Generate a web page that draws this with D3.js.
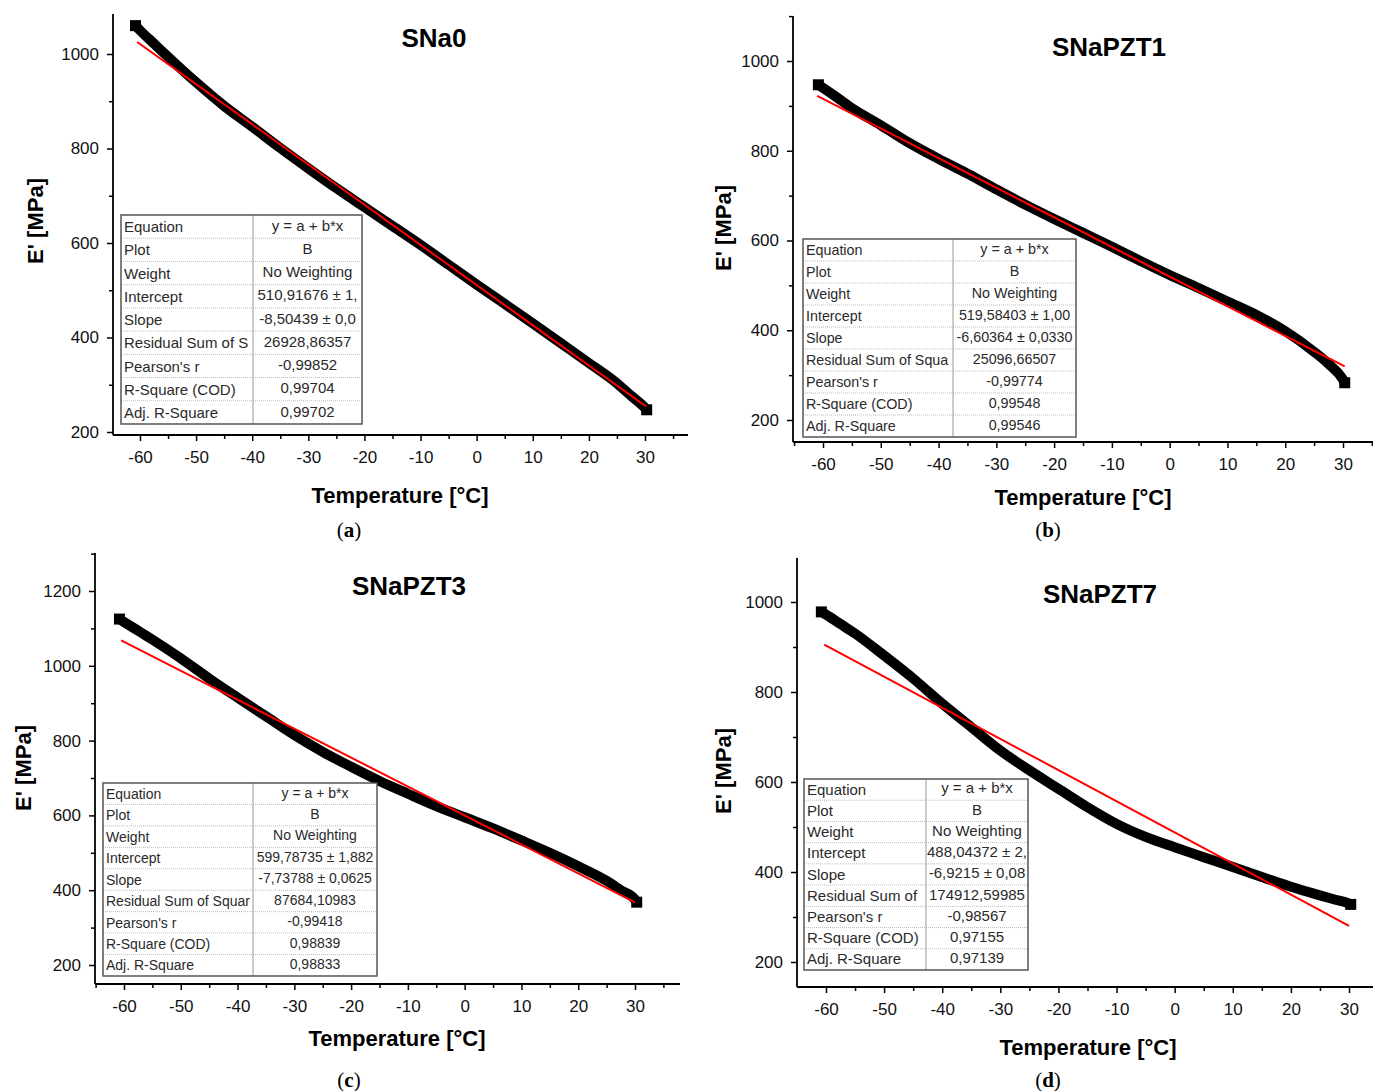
<!DOCTYPE html>
<html>
<head>
<meta charset="utf-8">
<script src="https://cdn.jsdelivr.net/npm/d3@7"></script>
<style>
  body { margin: 0; background: #fff; }
  text { font-family: "Liberation Sans", Arial, sans-serif; }
</style>
</head>
<body>
<svg id="chart" width="1373" height="1091"></svg>
<script>
const temps = [-60.8, -60, -57.5, -55, -50, -45, -40, -35, -30, -25, -20, -15, -10, -5, 0, 5, 10, 15, 20, 25, 27.5, 30, 30.3];
// storage modulus E' (MPa)
const modSNa0    = [1060, 1050, 1022, 994, 940, 890, 846, 801, 758, 716, 676, 636, 596, 554, 512, 471, 430, 388, 346, 303, 277, 251, 247];
const modSNaPZT1 = [947, 940, 918, 895, 857, 817, 782, 749, 714, 680, 648, 617, 586, 554, 523, 494, 464, 434, 398, 352, 325, 290, 283];
const modSNaPZT3 = [1125, 1117, 1094, 1070, 1020, 966, 915, 865, 815, 770, 730, 692, 658, 625, 595, 565, 533, 500, 464, 425, 400, 375, 368];
const modSNaPZT7 = [978, 972, 951, 930, 881, 830, 774, 722, 670, 626, 585, 544, 507, 478, 455, 433, 411, 389, 367, 348, 339, 330, 328];

const titles = ["SNa0", "SNaPZT1", "SNaPZT3", "SNaPZT7"];
const captions = ["a", "b", "c", "d"];
const intercepts = [510.91676, 519.58403, 599.78735, 488.04372];
const slopes = [-8.50439, -6.60364, -7.73788, -6.9215];
const fitFrom = [-60.5, -61, -60.5, -60.3];
const fitTo = [30.2, 30.3, 30, 30];

const xTicks = [-60, -50, -40, -30, -20, -10, 0, 10, 20, 30];
const yTicks = [200, 400, 600, 800, 1000, 1200];

const tableLabelsA = ["Equation", "Plot", "Weight", "Intercept", "Slope", "Residual Sum of S", "Pearson's r", "R-Square (COD)", "Adj. R-Square"];
const tableLabelsB = ["Equation", "Plot", "Weight", "Intercept", "Slope", "Residual Sum of Squa", "Pearson's r", "R-Square (COD)", "Adj. R-Square"];
const tableLabelsC = ["Equation", "Plot", "Weight", "Intercept", "Slope", "Residual Sum of Squar", "Pearson's r", "R-Square (COD)", "Adj. R-Square"];
const tableLabelsD = ["Equation", "Plot", "Weight", "Intercept", "Slope", "Residual Sum of", "Pearson's r", "R-Square (COD)", "Adj. R-Square"];
const tableValuesA = ["y = a + b*x", "B", "No Weighting", "510,91676 ± 1,", "-8,50439 ± 0,0", "26928,86357", "-0,99852", "0,99704", "0,99702"];
const tableValuesB = ["y = a + b*x", "B", "No Weighting", "519,58403 ± 1,00", "-6,60364 ± 0,0330", "25096,66507", "-0,99774", "0,99548", "0,99546"];
const tableValuesC = ["y = a + b*x", "B", "No Weighting", "599,78735 ± 1,882", "-7,73788 ± 0,0625", "87684,10983", "-0,99418", "0,98839", "0,98833"];
const tableValuesD = ["y = a + b*x", "B", "No Weighting", "488,04372 ± 2,", "-6,9215 ± 0,08", "174912,59985", "-0,98567", "0,97155", "0,97139"];

const series = [modSNa0, modSNaPZT1, modSNaPZT3, modSNaPZT7];
const tLabels = [tableLabelsA, tableLabelsB, tableLabelsC, tableLabelsD];
const tValues = [tableValuesA, tableValuesB, tableValuesC, tableValuesD];

// pixel placement of each panel
const layout = [
  {xr: [140, 645], yd: [1000, 200], yr: [54, 432], axL: 113, axR: 688, axT: 14, axB: 435,
   title: [434, 47], xl: [400, 503], yl: [43, 221], cap: [349, 537],
   tbl: {x: 121, y: 215, w: 241, h: 209, div: 132, fs: 15}},
  {xr: [823, 1343], yd: [1000, 200], yr: [61, 420], axL: 793, axR: 1373, axT: 16, axB: 442,
   title: [1109, 56], xl: [1083, 505], yl: [731, 228], cap: [1048, 537],
   tbl: {x: 803, y: 239, w: 273, h: 198, div: 150, fs: 14.3}},
  {xr: [124, 635], yd: [1200, 200], yr: [591, 965], axL: 95, axR: 680, axT: 553, axB: 984,
   title: [409, 595], xl: [397, 1046], yl: [31, 768], cap: [349, 1087],
   tbl: {x: 103, y: 783, w: 274, h: 193, div: 150, fs: 14}},
  {xr: [826, 1349], yd: [1000, 200], yr: [602, 962], axL: 797, axR: 1373, axT: 558, axB: 987,
   title: [1100, 603], xl: [1088, 1055], yl: [731, 771], cap: [1048, 1087],
   tbl: {x: 804, y: 779, w: 224, h: 191, div: 122, fs: 15}}
];

const svg = d3.select("#chart");

layout.forEach(function(L, k) {
  const g = svg.append("g");
  const x = d3.scaleLinear().domain([-60, 30]).range(L.xr);
  const y = d3.scaleLinear().domain(L.yd).range(L.yr);
  const xMin = x.invert(L.axL), xMax = x.invert(L.axR);
  const yMin = y.invert(L.axB), yMax = y.invert(L.axT);

  // data band (dense square markers in the original)
  const pts = temps.map(function(t, i) { return [t, series[k][i]]; });
  const line = d3.line().x(d => x(d[0])).y(d => y(d[1])).curve(d3.curveMonotoneX);
  g.append("path").datum(pts)
    .attr("d", line)
    .attr("fill", "none")
    .attr("stroke", "#000")
    .attr("stroke-width", 10)
    .attr("stroke-linejoin", "round");
  g.selectAll("rect.mk").data([pts[0], pts[pts.length - 1]]).enter().append("rect")
    .attr("class", "mk")
    .attr("x", d => x(d[0]) - 5.5)
    .attr("y", d => y(d[1]) - 5.5)
    .attr("width", 11).attr("height", 11)
    .attr("fill", "#000");

  // linear fit
  const fit = [fitFrom[k], fitTo[k]].map(t => [t, intercepts[k] + slopes[k] * t]);
  g.append("path").datum(fit)
    .attr("d", d3.line().x(d => x(d[0])).y(d => y(d[1])))
    .attr("stroke", "#f00")
    .attr("stroke-width", 2);

  // axes
  const xMaj = xTicks.filter(v => v >= xMin && v <= xMax);
  const xMin5 = d3.range(-65, 40, 10).filter(v => v >= xMin && v <= xMax);
  const yMaj = yTicks.filter(v => v >= yMin && v <= yMax);
  const yMin5 = d3.range(100, 1400, 200).filter(v => v >= yMin && v <= yMax);

  const ax = g.append("g").attr("transform", "translate(0," + L.axB + ")")
    .call(d3.axisBottom(x).tickValues(xMaj).tickSize(6).tickPadding(10).tickFormat(d => String(d)));
  ax.select(".domain").remove();
  ax.selectAll("text").style("font-size", "17px").attr("fill", "#111");
  ax.selectAll("line").attr("stroke-width", 1.5);
  const axm = g.append("g").attr("transform", "translate(0," + L.axB + ")")
    .call(d3.axisBottom(x).tickValues(xMin5).tickSize(4).tickFormat(""));
  axm.select(".domain").remove();
  axm.selectAll("line").attr("stroke-width", 1.5);

  const ay = g.append("g").attr("transform", "translate(" + L.axL + ",0)")
    .call(d3.axisLeft(y).tickValues(yMaj).tickSize(6).tickPadding(8).tickFormat(d => String(d)));
  ay.select(".domain").remove();
  ay.selectAll("text").style("font-size", "17px").attr("fill", "#111");
  ay.selectAll("line").attr("stroke-width", 1.5);
  const aym = g.append("g").attr("transform", "translate(" + L.axL + ",0)")
    .call(d3.axisLeft(y).tickValues(yMin5).tickSize(4).tickFormat(""));
  aym.select(".domain").remove();
  aym.selectAll("line").attr("stroke-width", 1.5);

  g.append("line").attr("x1", L.axL).attr("x2", L.axR).attr("y1", L.axB).attr("y2", L.axB)
    .attr("stroke", "#000").attr("stroke-width", 1.8);
  g.append("line").attr("x1", L.axL).attr("x2", L.axL).attr("y1", L.axT).attr("y2", L.axB)
    .attr("stroke", "#000").attr("stroke-width", 1.8);

  // titles and labels
  g.append("text").attr("x", L.title[0]).attr("y", L.title[1])
    .attr("text-anchor", "middle").style("font-size", "26px").style("font-weight", "bold")
    .text(titles[k]);
  g.append("text").attr("x", L.xl[0]).attr("y", L.xl[1])
    .attr("text-anchor", "middle").style("font-size", "22px").style("font-weight", "bold")
    .text("Temperature [°C]");
  g.append("text")
    .attr("transform", "translate(" + L.yl[0] + "," + L.yl[1] + ") rotate(-90)")
    .attr("text-anchor", "middle").style("font-size", "22px").style("font-weight", "bold")
    .text("E' [MPa]");
  const cap = g.append("text").attr("x", L.cap[0]).attr("y", L.cap[1])
    .attr("text-anchor", "middle")
    .style("font-family", "'Liberation Serif', 'Times New Roman', serif")
    .style("font-size", "21px");
  cap.append("tspan").text("(");
  cap.append("tspan").style("font-weight", "bold").text(captions[k]);
  cap.append("tspan").text(")");

  // fit statistics table
  const T = L.tbl;
  const rh = T.h / 9;
  const tb = g.append("g").attr("transform", "translate(" + T.x + "," + T.y + ")");
  tb.append("rect").attr("width", T.w).attr("height", T.h).attr("fill", "#fff");
  for (let i = 1; i < 9; i++) {
    tb.append("line").attr("x1", 0).attr("x2", T.w).attr("y1", i * rh).attr("y2", i * rh)
      .attr("stroke", "#bbb").attr("stroke-width", 1).attr("stroke-dasharray", "1,1");
  }
  tb.append("line").attr("x1", T.div).attr("x2", T.div).attr("y1", 0).attr("y2", T.h)
    .attr("stroke", "#999").attr("stroke-width", 1);
  tb.append("rect").attr("width", T.w).attr("height", T.h)
    .attr("fill", "none").attr("stroke", "#555").attr("stroke-width", 1.5);
  tb.selectAll("text.lab").data(tLabels[k]).enter().append("text")
    .attr("class", "lab")
    .attr("x", 3).attr("y", (d, i) => i * rh + rh * 0.74)
    .style("font-size", T.fs + "px").attr("fill", "#2a2a2a")
    .text(d => d);
  tb.selectAll("text.val").data(tValues[k]).enter().append("text")
    .attr("class", "val")
    .attr("x", (T.div + T.w) / 2).attr("y", (d, i) => i * rh + rh * 0.68)
    .attr("text-anchor", "middle")
    .style("font-size", T.fs + "px").attr("fill", "#2a2a2a")
    .text(d => d);
});
</script>
</body>
</html>
